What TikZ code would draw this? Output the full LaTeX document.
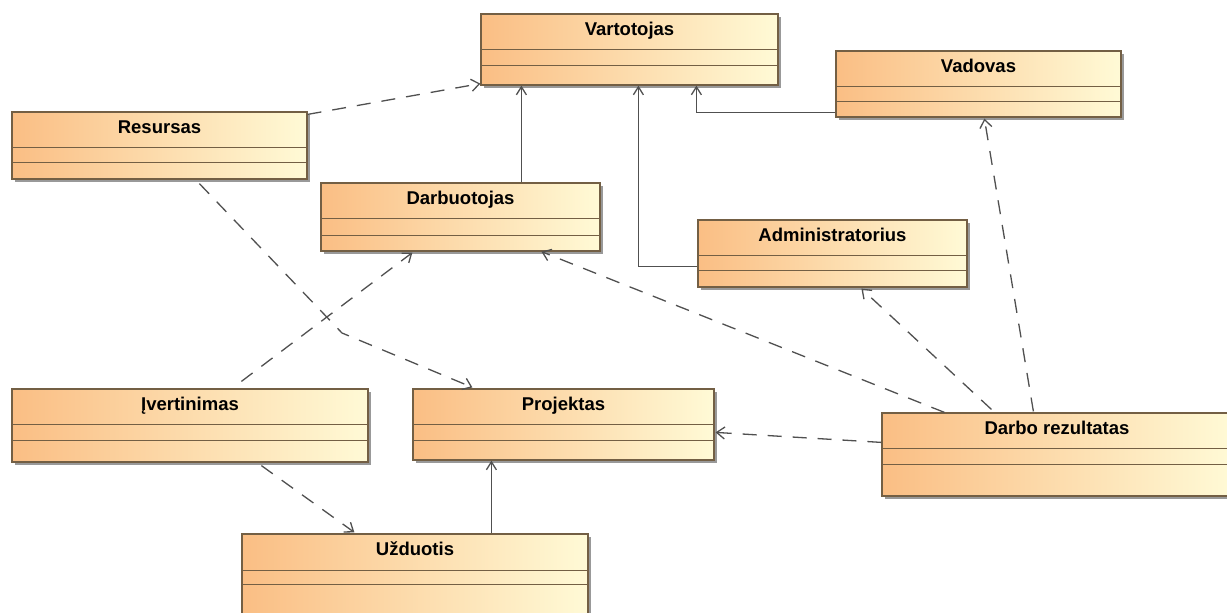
\documentclass[tikz,border=0pt]{standalone}
\usepackage{fontspec}
\setmainfont{Liberation Sans}
\usetikzlibrary{arrows.meta,calc,shadows}

\definecolor{boxleft}{RGB}{250,190,132}
\definecolor{boxmid}{RGB}{253,220,168}
\definecolor{boxright}{RGB}{255,250,214}
\definecolor{boxline}{RGB}{115,95,68}
\definecolor{linkc}{RGB}{80,80,80}

\tikzset{
  classbox/.style={rectangle, draw=boxline, line width=1.2pt,
    left color=boxleft, middle color=boxmid, right color=boxright, inner sep=0pt,
    drop shadow={shadow xshift=3pt, shadow yshift=-3pt, fill=black, opacity=0.4}},
  divider/.style={draw=boxline, line width=1.2pt},
  classtitle/.style={anchor=base, inner sep=0pt,
    font=\bfseries\fontsize{18.5}{20}\selectfont},
  dep/.style={draw=linkc, line width=1.3pt, dash pattern=on 14pt off 11pt,
    -{Straight Barb[length=8pt,width=12pt]}},
  gen/.style={draw=linkc, line width=1.3pt,
    -{Straight Barb[length=8pt,width=10pt]}},
}

% #1 name, #2 left, #3 top, #4 right, #5 bottom,
% #6 first divider below top, #7 second divider below top, #8 class name
\newcommand\umlclass[8]{%
  \node[classbox, minimum width={(#4-#2)*1pt}, minimum height={(#5-#3)*1pt}]
    (#1) at ({(#2+#4)/2},{(#3+#5)/2}) {};
  \draw[divider] ($(#1.north west)+(0,#6)$) -- ($(#1.north east)+(0,#6)$);
  \draw[divider] ($(#1.north west)+(0,#7)$) -- ($(#1.north east)+(0,#7)$);
  \node[classtitle] (#1-t) at ($(#1.north)+(0,22)$) {#8};
}

\begin{document}
\begin{tikzpicture}[x=1pt, y=-1pt]
  \useasboundingbox (0,0) rectangle (1227,613);
  \clip (0,0) rectangle (1227,613);
  \fill[white] (0,0) rectangle (1227,613);

  % classes
  \umlclass{vart}{481}{14}{778}{85}{36}{52}{Vartotojas}
  \umlclass{vad}{836}{51}{1121}{117}{36}{51}{Vadovas}
  \umlclass{res}{12}{112}{307}{179}{36}{51}{Resursas}
  \umlclass{darb}{321}{183}{600}{251}{36}{53}{Darbuotojas}
  \umlclass{adm}{698}{220}{967}{287}{36}{51}{Administratorius}
  \umlclass{ivert}{12}{389}{368}{462}{36}{52}{Įvertinimas}
  \umlclass{proj}{413}{389}{714}{460}{36}{52}{Projektas}
  \umlclass{rez}{882}{413}{1232}{496}{36}{52}{Darbo rezultatas}
  \umlclass{uzd}{242}{534}{588}{640}{37}{51}{Užduotis}

  % generalisations
  \draw[gen] ($(darb.north west)+(201,0)$) -- ($(vart.south west)+(41,0)$);
  \draw[gen] ($(adm.north west)+(0,47)$) -| ($(vart.south west)+(158,0)$);
  \draw[gen] ($(vad.north west)+(0,62)$) -| ($(vart.south west)+(216,0)$);
  \draw[gen] ($(uzd.north west)+(250,0)$) -- ($(proj.south west)+(79,0)$);

  % dependencies
  \draw[dep] ($(res.north east)+(0,3)$) -- ($(vart.south west)+(0,-2)$);
  \coordinate (bend) at (342,333);
  \draw[dep] ($(res.south west)+(188,4)$) -- (bend) -- ($(proj.north west)+(60,-1)$);
  \draw[dep] ($(ivert.north west)+(230,-7)$) -- ($(darb.south west)+(92,1)$);
  \draw[dep] ($(ivert.south west)+(250,3)$) -- ($(uzd.north west)+(113,-1)$);
  \draw[dep] ($(rez.north west)+(0,30)$) -- ($(proj.north east)+(1,44)$);
  \draw[dep] ($(rez.north west)+(63,0)$) -- ($(darb.south west)+(221,0)$);
  \draw[dep] ($(rez.north west)+(110,-3)$) -- ($(adm.south west)+(164,1)$);
  \draw[dep] ($(rez.north west)+(152,-1)$) -- ($(vad.south west)+(149,1)$);
\end{tikzpicture}
\end{document}
